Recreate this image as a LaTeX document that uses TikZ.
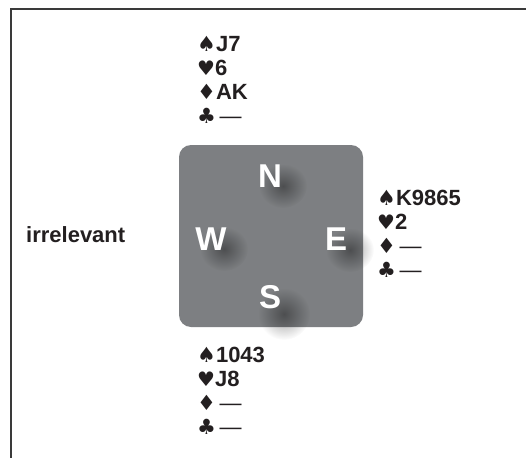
\documentclass[tikz,border=0pt]{standalone}
\usepackage{fontspec}
\setmainfont{Liberation Sans}
\newfontfamily\suitfont{DejaVu Sans}
\usetikzlibrary{fadings}
\definecolor{ink}{HTML}{231F20}
\definecolor{boxgray}{HTML}{7D7F82}
\definecolor{framegray}{HTML}{3A3A3A}
\tikzfading[name=softshadow, inner color=transparent!62, outer color=transparent!100]
\newcommand{\suitS}{{\suitfont\fontsize{21}{21}\selectfont ♠}}
\newcommand{\suitH}{{\suitfont\fontsize{20}{20}\selectfont ♥}}
\newcommand{\suitD}{{\suitfont\fontsize{21}{21}\selectfont ♦}}
\newcommand{\suitC}{{\suitfont\fontsize{21}{21}\selectfont ♣}}
\newcommand{\nocard}{\,\textmd{—}}
\tikzset{
  handline/.style={anchor=base west, inner sep=0pt, text=ink, font=\fontsize{22}{24}\selectfont\bfseries},
  compass/.style={anchor=base, inner sep=0pt, text=white, font=\fontsize{33}{33}\selectfont\bfseries},
  shadowblob/.style={fill=black, path fading=softshadow},
  framestyle/.style={draw=framegray, line width=2pt},
  tablebox/.style={fill=boxgray, rounded corners=12pt}
}
\begin{document}
\begin{tikzpicture}[x=1pt,y=-1pt]
\useasboundingbox (0,0) rectangle (526,457);
\fill[white] (0,0) rectangle (526,457);
% frame
\coordinate (ftl) at (11,9);
\coordinate (ftr) at (527,9);
\coordinate (fbl) at (11,458);
\draw[framestyle] (fbl) -- (ftl) -- (ftr);
% table
\fill[tablebox] (179,145) rectangle (363,327);
% shadows
\fill[shadowblob] (283,186) ellipse (24 and 22);
\fill[shadowblob] (224,249) ellipse (24 and 22);
\fill[shadowblob] (350,250) ellipse (24 and 22);
\fill[shadowblob] (284,314) ellipse (26 and 26);
% compass letters
\node[compass] (N) at (270,187) {N};
\node[compass] (W) at (211,250) {W};
\node[compass] (E) at (336,250) {E};
\node[compass] (S) at (270,308) {S};
% north
\node[handline] (n1) at (197,52) {\suitS J7};
\node[handline] (n2) at (197,76) {\suitH 6};
\node[handline] (n3) at (197,100) {\suitD AK};
\node[handline] (n4) at (197,124) {\suitC\nocard};
% east
\node[handline] (e1) at (377,205) {\suitS K9865};
\node[handline] (e2) at (377,229) {\suitH 2};
\node[handline] (e3) at (377,253) {\suitD\nocard};
\node[handline] (e4) at (377,277) {\suitC\nocard};
% south
\node[handline] (s1) at (197,362) {\suitS 1043};
\node[handline] (s2) at (197,386) {\suitH J8};
\node[handline] (s3) at (197,410) {\suitD\nocard};
\node[handline] (s4) at (197,434) {\suitC\nocard};
% west
\node[handline] (w1) at (26,242) {irrelevant};
\end{tikzpicture}
\end{document}
